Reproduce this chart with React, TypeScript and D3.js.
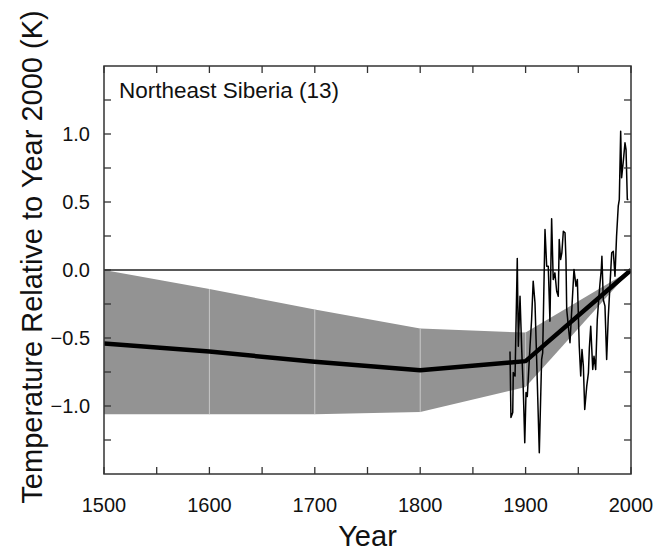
import React from "react";
import * as d3 from "d3";

const bandYears = [1500, 1600, 1700, 1800, 1900, 2000];
const bandUpper = [0.0, -0.14, -0.29, -0.43, -0.46, 0.0];
const bandLower = [-1.06, -1.06, -1.06, -1.045, -0.86, 0.0];
const meanValues = [-0.54, -0.6, -0.675, -0.737, -0.67, 0.0];

const obsYears = [
  1885.2, 1886.1, 1887.8, 1888.3, 1890.0, 1892.1, 1893.1, 1894.7, 1896.3, 1897.8,
  1899.2, 1900.4, 1901.6, 1904.2, 1905.7, 1907.2, 1908.9, 1910.5, 1913.0, 1915.2,
  1916.2, 1918.4, 1920.0, 1921.5, 1923.1, 1924.7, 1926.2, 1927.8, 1929.5, 1931.0,
  1931.9, 1933.2, 1934.4, 1935.8, 1937.4, 1938.3, 1939.0, 1942.1, 1945.9, 1947.8,
  1949.1, 1950.9, 1952.3, 1953.5, 1954.8, 1956.1, 1958.0, 1959.6, 1960.5, 1961.8,
  1963.7, 1964.9, 1966.5, 1968.0, 1969.6, 1970.5, 1971.8, 1972.4, 1973.7, 1975.3,
  1976.9, 1978.4, 1980.0, 1981.7, 1983.2, 1984.8, 1986.3, 1987.9, 1988.9, 1990.2,
  1991.1, 1992.7, 1994.3, 1995.3, 1996.5, 1997.5,
];
const obsValues = [
  -0.6, -1.085, -1.048, -0.754, -0.78, 0.085, -0.56, -0.193, -0.585, -0.879,
  -1.27, -0.9, -0.93, -0.56, -0.364, -0.082, -0.241, -0.658, -1.344, -0.658,
  -0.61, 0.298, 0.028, 0.028, -0.376, 0.377, -0.07, -0.021, -0.156, -0.193,
  0.224, 0.077, 0.126, 0.285, 0.274, 0.077, -0.29, -0.535, 0.004, -0.119,
  -0.07, -0.56, -0.78, -0.585, -0.707, -1.026, -0.854, -0.756, -0.572, -0.413,
  -0.732, -0.634, -0.732, -0.364, -0.193, -0.107, 0.004, 0.101, -0.217, -0.266,
  -0.658, -0.352, -0.119, 0.127, 0.138, -0.046, 0.249, 0.469, 0.518, 1.02,
  0.678, 0.8, 0.935, 0.886, 0.518, 0.518,
];

const xMajorTicks = [1500, 1600, 1700, 1800, 1900, 2000];
const xMinorTicks = [1550, 1650, 1750, 1850, 1950];
const yLabelTicks = [-1.0, -0.5, 0.0, 0.5, 1.0];
const yAllTicks = [-1.25, -1.0, -0.75, -0.5, -0.25, 0.0, 0.25, 0.5, 0.75, 1.0, 1.25];

const title = "Northeast Siberia (13)";
const xTitle = "Year";
const yTitle = "Temperature Relative to Year 2000 (K)";

export default function App() {
  const W = 664, H = 552;
  const left = 104, right = 631, top = 66, bottom = 474;
  const x = d3.scaleLinear().domain([1500, 2000]).range([left, right]);
  const y = d3.scaleLinear().domain([-1.5, 1.5]).range([bottom, top]);
  const font = "'Liberation Sans', Arial, Helvetica, sans-serif";

  const bandPolys: string[] = [];
  for (let i = 0; i < bandYears.length - 1; i++) {
    const pts: [number, number][] = [
      [x(bandYears[i]), y(bandUpper[i])],
      [x(bandYears[i + 1]), y(bandUpper[i + 1])],
      [x(bandYears[i + 1]), y(bandLower[i + 1])],
      [x(bandYears[i]), y(bandLower[i])],
    ];
    bandPolys.push(pts.map((p) => p.join(",")).join(" "));
  }

  const line = d3
    .line<[number, number]>()
    .x((d) => x(d[0]))
    .y((d) => y(d[1]));
  const meanPath = line(bandYears.map((yr, i) => [yr, meanValues[i]]) as [number, number][]) || "";
  const obsPath = line(obsYears.map((yr, i) => [yr, obsValues[i]]) as [number, number][]) || "";

  const axisColor = "#333";
  const tickLen = 7;

  return (
    <svg
      width={W}
      height={H}
      style={{ position: "absolute", left: 0, top: 0, background: "#fff" }}
      fontFamily={font}
    >
      <defs>
        <clipPath id="plotClip">
          <rect x={left} y={top} width={right - left} height={bottom - top} />
        </clipPath>
      </defs>
      <g clipPath="url(#plotClip)">
        {bandPolys.map((p, i) => (
          <polygon key={i} points={p} fill="#939393" stroke="none" />
        ))}
        {bandYears.slice(1, -1).map((yr, i) => (
          <line
            key={"sep" + i}
            x1={x(yr)}
            x2={x(yr)}
            y1={y(bandUpper[i + 1])}
            y2={y(bandLower[i + 1])}
            stroke="#c4c4c4"
            strokeWidth={1}
          />
        ))}
        <line x1={left} x2={right} y1={y(0)} y2={y(0)} stroke="#222" strokeWidth={1.3} />
        <path d={obsPath} fill="none" stroke="#000" strokeWidth={1.5} strokeLinejoin="round" />
        <path d={meanPath} fill="none" stroke="#000" strokeWidth={4.5} strokeLinejoin="round" />
      </g>

      <rect
        x={left}
        y={top}
        width={right - left}
        height={bottom - top}
        fill="none"
        stroke={axisColor}
        strokeWidth={1.5}
      />

      {[...xMajorTicks, ...xMinorTicks].map((t) => (
        <g key={"xt" + t}>
          <line x1={x(t)} x2={x(t)} y1={bottom} y2={bottom - tickLen} stroke={axisColor} strokeWidth={1.3} />
          <line x1={x(t)} x2={x(t)} y1={top} y2={top + tickLen} stroke={axisColor} strokeWidth={1.3} />
        </g>
      ))}
      {yAllTicks.map((t) => (
        <g key={"yt" + t}>
          <line x1={left} x2={left + tickLen} y1={y(t)} y2={y(t)} stroke={axisColor} strokeWidth={1.3} />
          <line x1={right} x2={right - tickLen} y1={y(t)} y2={y(t)} stroke={axisColor} strokeWidth={1.3} />
        </g>
      ))}

      {xMajorTicks.map((t) => (
        <text key={"xl" + t} x={x(t)} y={512} textAnchor="middle" fontSize={20} fill="#111">
          {String(t)}
        </text>
      ))}
      {yLabelTicks.map((t) => (
        <text
          key={"yl" + t}
          x={90}
          y={y(t)}
          dy="0.35em"
          textAnchor="end"
          fontSize={20}
          fill="#111"
        >
          {d3.format(".1f")(t)}
        </text>
      ))}

      <text x={119} y={98} fontSize={22.5} fill="#111">
        {title}
      </text>
      <text x={(left + right) / 2} y={546} textAnchor="middle" fontSize={29} fill="#111">
        {xTitle}
      </text>
      <text
        transform={`translate(42, 257) rotate(-90)`}
        textAnchor="middle"
        fontSize={29}
        fill="#111"
      >
        {yTitle}
      </text>
    </svg>
  );
}
